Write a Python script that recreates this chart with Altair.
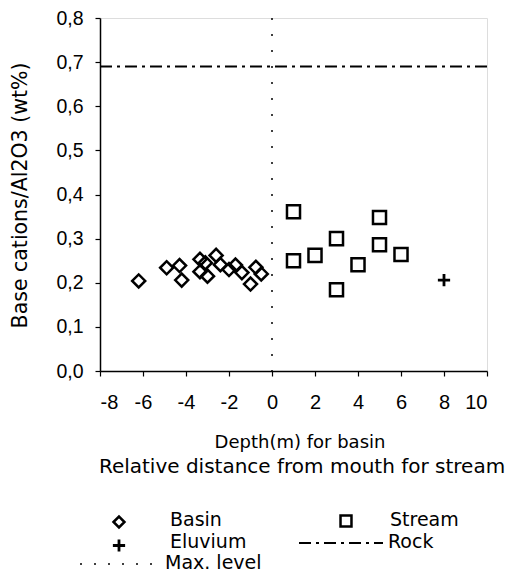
import altair as alt
import pandas as pd

# ---- data ----
basin_x = [-6.2, -4.9, -4.3, -4.2, -3.35, -3.1, -2.6, -3.35, -3.0, -2.4, -2.0, -1.7, -1.4, -1.0, -0.75, -0.5]
basin_y = [0.204, 0.234, 0.239, 0.206, 0.253, 0.245, 0.262, 0.225, 0.215, 0.241, 0.230, 0.240, 0.223, 0.197, 0.235, 0.220]
stream_x = [1, 1, 2, 3, 3, 4, 5, 5, 6]
stream_y = [0.361, 0.250, 0.262, 0.300, 0.184, 0.241, 0.348, 0.286, 0.264]
eluvium_x = [8]
eluvium_y = [0.206]
rock_level = [0.69]
max_level_x = [0]
x_ticks = [-8, -6, -4, -2, 0, 2, 4, 6, 8, 10]
y_ticks = [0.0, 0.1, 0.2, 0.3, 0.4, 0.5, 0.6, 0.7, 0.8]
legend_labels = ["Basin", "Stream", "Eluvium", "Rock", "Max. level"]
x_title = ["Depth(m) for basin", "Relative distance from mouth for stream"]
y_title = "Base cations/Al2O3 (wt%)"

FONT = "Liberation Sans"
TFONT = "DejaVu Sans"
TOP = 18                      # page y of plot top
W, H = 387, 353
PLUS = "M-1,0H1M0,-1V1"

xscale = alt.Scale(domain=[-8, 10], nice=False, zero=False)
yscale = alt.Scale(domain=[0, 0.8], nice=False)

xaxis = alt.Axis(values=x_ticks, labelExpr="datum.value + ''", grid=False,
                 tickSize=5, labelPadding=16, labelFontSize=20, labelFont=FONT,
                 labelColor="black", tickColor="black", domainColor="black",
                 domainWidth=1.5, tickWidth=1.2, title=None)
yaxis = alt.Axis(values=y_ticks, labelExpr="replace(format(datum.value, '.1f'), '.', ',')",
                 grid=False, tickSize=5, labelPadding=12, labelFontSize=19.5, labelFont=FONT,
                 labelColor="black", tickColor="black", domainColor="black",
                 domainWidth=1.5, tickWidth=1.2,
                 title=y_title, titleFont=TFONT, titleFontSize=20.5, titleFontWeight="normal",
                 titleColor="black", titleAngle=270, titleBaseline="middle",
                 titleX=-80, titleY=195 - TOP, titleAlign="center")

basin_df = pd.DataFrame({"x": basin_x, "y": basin_y})
stream_df = pd.DataFrame({"x": stream_x, "y": stream_y})
eluv_df = pd.DataFrame({"x": eluvium_x, "y": eluvium_y})
rock_df = pd.DataFrame({"y": rock_level})
max_df = pd.DataFrame({"x": max_level_x})

base_pt = dict(filled=False, color="black", strokeWidth=2.5, size=170, opacity=1)

basin = alt.Chart(basin_df).mark_point(shape="diamond", **base_pt).encode(
    x=alt.X("x:Q", scale=xscale, axis=xaxis),
    y=alt.Y("y:Q", scale=yscale, axis=yaxis))
stream = alt.Chart(stream_df).mark_point(shape="square", **base_pt).encode(
    x=alt.X("x:Q", scale=xscale), y=alt.Y("y:Q", scale=yscale))
eluv = alt.Chart(eluv_df).mark_point(shape=PLUS, filled=False, color="black",
                                     strokeWidth=2.8, size=150, opacity=1).encode(
    x=alt.X("x:Q", scale=xscale), y=alt.Y("y:Q", scale=yscale))
rock = alt.Chart(rock_df).mark_rule(color="black", strokeWidth=2,
                                    strokeDash=[12, 5, 3, 5]).encode(
    y=alt.Y("y:Q", scale=yscale))
maxl = alt.Chart(max_df).mark_rule(color="black", strokeWidth=1.5,
                                   strokeDash=[2, 14]).encode(
    x=alt.X("x:Q", scale=xscale))

# ---- x-axis title lines ----
title_src = pd.DataFrame({"line": x_title})

def title_line(i, font, size, x, y):
    return alt.Chart(title_src).transform_filter(
        alt.datum.line == x_title[i]).mark_text(
        align="center", baseline="alphabetic", font=font, fontSize=size, color="black").encode(
        text="line:N", x=alt.value(x), y=alt.value(y))

titles = [
    title_line(0, TFONT, 18, 200, 448 - TOP),
    title_line(1, TFONT, 20, 202, 473 - TOP),
]

# ---- legend (below the plot) ----
leg_src = pd.DataFrame({"label": legend_labels})

def leg_text(i, x, y):
    return alt.Chart(leg_src).transform_filter(
        alt.datum.label == legend_labels[i]).mark_text(
        align="left", baseline="alphabetic", fontSize=19, font=TFONT, color="black").encode(
        text="label:N", x=alt.value(x), y=alt.value(y - TOP))

def leg_sym(i, shape, x, y, size=170, sw=2.5):
    return alt.Chart(leg_src).transform_filter(alt.datum.label == legend_labels[i]).mark_point(
        shape=shape, filled=False, color="black", strokeWidth=sw, size=size, opacity=1).encode(
        x=alt.value(x), y=alt.value(y - TOP))

legend = [
    leg_sym(0, "diamond", 19, 522, size=120),
    leg_text(0, 70, 526),
    leg_sym(1, "square", 246, 521, size=120),
    leg_text(1, 290, 526),
    leg_sym(2, PLUS, 19, 545.5, size=150, sw=2.8),
    leg_text(2, 70, 548),
    alt.Chart(leg_src).transform_filter(alt.datum.label == legend_labels[3]).mark_rule(
        color="black", strokeWidth=2, strokeDash=[12, 5, 3, 5]).encode(
        x=alt.value(199), x2=alt.value(283), y=alt.value(543 - TOP)),
    leg_text(3, 288, 548),
    alt.Chart(leg_src).transform_filter(alt.datum.label == legend_labels[4]).mark_rule(
        color="black", strokeWidth=1.5, strokeDash=[2, 12]).encode(
        x=alt.value(-20), x2=alt.value(60), y=alt.value(564 - TOP)),
    leg_text(4, 65, 569),
]

chart = alt.layer(maxl, rock, basin, stream, eluv, *titles, *legend).properties(
    width=W, height=H,
    autosize=alt.AutoSizeParams(type="none"),
    padding={"left": 92, "top": TOP - 8, "right": 19, "bottom": 567 - (TOP - 8) - H},
).configure_view(stroke="black", strokeWidth=1.5).configure(background="white")

chart.save("out.html", embed_options={"renderer": "svg", "actions": False})
